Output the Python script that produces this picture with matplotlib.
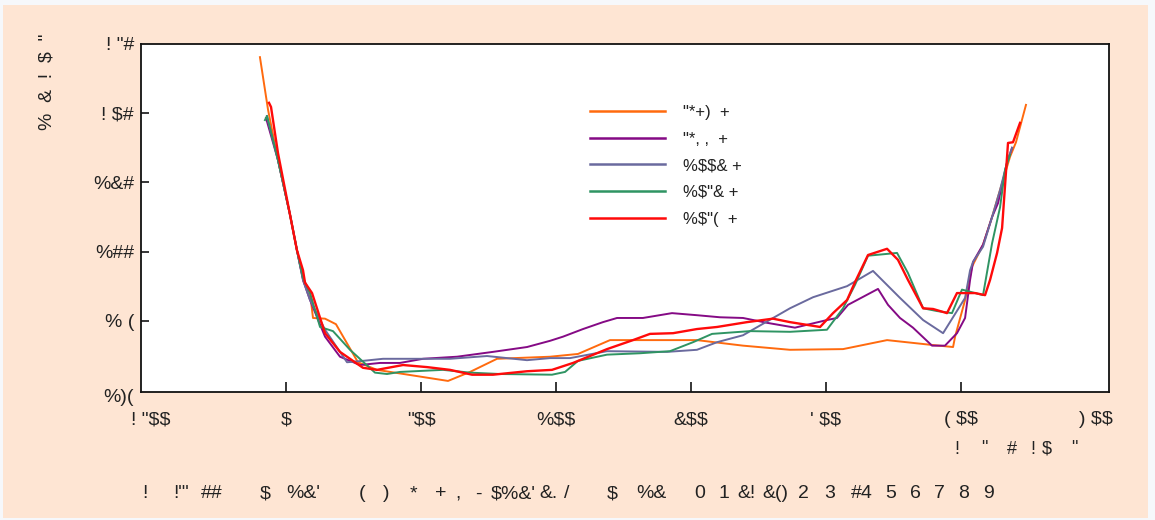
import matplotlib
matplotlib.use("Agg")
import matplotlib.pyplot as plt
from matplotlib.patches import Rectangle
from matplotlib.transforms import ScaledTranslation

plt.rcParams['font.family'] = ['Liberation Sans', 'DejaVu Sans']
plt.rcParams['text.parse_math'] = False

# ---- data ----
series_labels = ['"*+)  +', '"*, ,  +', '%$$& +', '%$"& +', '%$"(  +']
series_colors = ['#FF6A0E', '#850A85', '#6A6A9E', '#2F9463', '#FF0A0A']

orange_x = [-19.3, -13.3, -5.9, 3.0, 8.1, 13.3, 17.8, 20.0, 28.9, 37.0, 53.3, 67.4, 120.0, 136.3,
            156.3, 195.6, 216.3, 240.0, 304.4, 338.5, 373.3, 412.6, 445.2, 478.5, 494.1, 495.6,
            503.0, 508.1, 516.3, 523.0, 528.9, 536.3, 540.7, 548.1]
orange_y = [4.81, 4.05, 3.32, 2.53, 2.02, 1.55, 1.40, 1.04, 1.03, 0.95, 0.40, 0.29, 0.13, 0.26,
            0.45, 0.48, 0.52, 0.72, 0.72, 0.64, 0.58, 0.59, 0.72, 0.65, 0.62, 0.77,
            1.30, 1.78, 2.10, 2.50, 2.89, 3.37, 3.58, 4.12]

purple_x = [-14.8, -5.9, 3.0, 8.1, 12.6, 17.8, 28.9, 40.0, 54.8, 69.6, 84.4, 101.5, 126.7, 153.3,
            178.5, 195.6, 205.2, 220.0, 234.8, 245.2, 264.4, 285.9, 304.4, 321.5, 338.5, 356.3,
            377.0, 400.7, 408.1, 416.3, 438.5, 445.9, 454.8, 464.4, 478.5, 488.1, 497.0, 503.0,
            506.7, 508.9, 516.3, 523.0, 527.4, 534.1, 537.8]
purple_y = [3.93, 3.32, 2.53, 2.02, 1.59, 1.30, 0.77, 0.48, 0.36, 0.39, 0.39, 0.45, 0.48, 0.55,
            0.62, 0.71, 0.77, 0.88, 0.98, 1.04, 1.04, 1.11, 1.08, 1.05, 1.04, 0.97,
            0.90, 1.01, 1.04, 1.23, 1.46, 1.23, 1.04, 0.90, 0.64, 0.64, 0.82, 1.04,
            1.59, 1.85, 2.10, 2.50, 2.70, 3.29, 3.50]

slate_x = [-14.1, -5.9, 3.0, 8.1, 12.6, 17.8, 28.9, 45.2, 57.0, 71.9, 121.5, 148.9, 178.5, 195.6,
           210.4, 237.8, 282.2, 304.4, 319.3, 338.5, 373.3, 390.4, 415.6, 434.8, 454.8, 471.9,
           486.7, 503.0, 506.7, 508.9, 516.3, 523.0, 528.9, 534.1, 537.8]
slate_y = [3.96, 3.32, 2.53, 2.02, 1.59, 1.30, 0.87, 0.40, 0.42, 0.45, 0.45, 0.49, 0.43, 0.46,
           0.46, 0.56, 0.55, 0.58, 0.69, 0.79, 1.18, 1.34, 1.50, 1.72, 1.33, 1.01,
           0.82, 1.33, 1.73, 1.85, 2.07, 2.50, 2.89, 3.29, 3.50]

green_x = [-15.6, -14.1, -5.9, 3.0, 8.1, 12.6, 17.8, 25.2, 34.8, 47.4, 65.9, 74.8, 84.4, 116.3,
           136.3, 158.5, 197.0, 206.7, 216.3, 237.8, 262.2, 284.4, 301.5, 315.6, 343.7, 373.3,
           400.7, 412.6, 421.5, 431.1, 452.6, 460.7, 471.9, 482.2, 493.3, 500.7, 516.3, 523.0,
           528.9, 532.6, 536.3]
green_y = [3.90, 3.96, 3.32, 2.53, 2.02, 1.62, 1.40, 0.91, 0.85, 0.58, 0.25, 0.23, 0.26, 0.29,
           0.25, 0.23, 0.22, 0.26, 0.42, 0.51, 0.53, 0.56, 0.69, 0.81, 0.85, 0.84,
           0.87, 1.18, 1.52, 1.94, 1.98, 1.69, 1.18, 1.14, 1.11, 1.45, 1.37, 2.12,
           2.64, 3.18, 3.40]

red_x = [-12.6, -11.1, -5.9, 3.0, 8.1, 12.6, 14.1, 19.3, 28.9, 40.0, 57.0, 67.4, 86.7, 104.4,
         121.5, 137.8, 153.3, 178.5, 197.0, 212.6, 237.8, 257.0, 269.6, 286.7, 304.4, 319.3,
         341.5, 360.7, 373.3, 395.6, 405.2, 415.6, 421.5, 431.1, 445.2, 453.3, 460.7, 471.9,
         479.3, 489.6, 497.0, 510.4, 517.8, 521.5, 526.7, 530.4, 534.8, 538.5, 543.7]
red_y = [4.15, 4.09, 3.42, 2.53, 2.02, 1.73, 1.55, 1.40, 0.82, 0.55, 0.32, 0.29, 0.36, 0.33,
         0.29, 0.22, 0.22, 0.27, 0.29, 0.39, 0.59, 0.72, 0.81, 0.82, 0.88, 0.91,
         0.98, 1.03, 0.98, 0.91, 1.11, 1.30, 1.56, 1.95, 2.04, 1.88, 1.59, 1.18,
         1.17, 1.11, 1.40, 1.40, 1.37, 1.59, 1.98, 2.34, 3.57, 3.58, 3.86]

x_ticks = [-100, 0, 100, 200, 300, 400, 500, 600]
x_tick_labels = ['! "$$', '$', '"$$', '%$$', '&$$', "' $$", '( $$', ') $$']
y_ticks = [0, 1, 2, 3, 4, 5]
y_tick_labels = ['%)(', '% (', '%##', '%&#', '! $#', '! "#']

y_title = '%  &  !  $  "'
unit_tokens = ['!', '"', '#', '!', '$', '"']
caption_tokens = ['!', '!"\'', '##', '$', '%&\'', '(', ')', '*', '+', ',', '-', '$%&\'', '&.', '/',
                  '$', '%&', '0', '1', '&!', '&()', '2', '3', '#4', '5', '6', '7', '8', '9']

# ---- layout (pixel positions of the free-standing text pieces) ----
unit_px = [957, 984, 1012, 1033, 1047, 1074]
caption_px = [145, 181, 212, 265, 303, 362, 386, 413, 441, 458, 478, 513, 549, 567,
              612, 651, 700, 724, 747, 775, 803, 830, 862, 891, 915, 939, 964, 988]

xs = [orange_x, purple_x, slate_x, green_x, red_x]
ys = [orange_y, purple_y, slate_y, green_y, red_y]
widths = [1.4, 1.4, 1.4, 1.4, 1.7]

# ---- figure ----
W, H = 1155, 520
fig = plt.figure(figsize=(W / 100, H / 100), dpi=100, facecolor='#F6F8FB')
fig.patches.append(Rectangle((3 / W, 1 - 518 / H), (1148 - 3) / W, (518 - 5) / H,
                             transform=fig.transFigure, facecolor='#FEE5D3',
                             edgecolor='none', zorder=-5))

ax = fig.add_axes([141 / W, 1 - 392 / H, (1109 - 141) / W, (392 - 44) / H])
ax.set_facecolor('white')

for x, y, c, lab, lw in zip(xs, ys, series_colors, series_labels, widths):
    ax.plot(x, y, color=c, lw=lw, label=lab, solid_joinstyle='round')

ax.set_xlim(-107.4, 609.6)
ax.set_ylim(-0.03, 5.0)

for s in ax.spines.values():
    s.set_linewidth(1.3)
    s.set_color('#111111')

ax.set_xticks(x_ticks)
ax.set_xticklabels(x_tick_labels, fontsize=14, color='#222222')
ax.set_yticks(y_ticks)
ax.set_yticklabels(y_tick_labels, fontsize=14, color='#222222')
ax.tick_params(axis='x', direction='in', length=7, width=1.1, pad=14)
ax.tick_params(axis='y', direction='in', length=6, width=1.1, pad=5)

# outer ticks carry labels only
xt = ax.xaxis.get_major_ticks()
xt[0].tick1line.set_visible(False)
xt[-1].tick1line.set_visible(False)
yt = ax.yaxis.get_major_ticks()
yt[0].tick1line.set_visible(False)
yt[-1].tick1line.set_visible(False)
# lowest y label sits a little below the axis line
lbl0 = ax.get_yticklabels()[0]
lbl0.set_transform(lbl0.get_transform() + ScaledTranslation(0, -6 / 100, fig.dpi_scale_trans))

leg = ax.legend(loc='upper left', bbox_to_anchor=((590 - 141) / (1109 - 141),
                                                  1 - (105 - 44) / (392 - 44)),
                frameon=False, fontsize=12, handlelength=4.5, handletextpad=1.1,
                labelspacing=0.7, borderaxespad=0, borderpad=0)
for line in leg.get_lines():
    line.set_linewidth(1.8)
for t in leg.get_texts():
    t.set_color('#222222')

fig.text(47 / W, 1 - 82 / H, y_title, rotation=90, ha='center', va='center',
         fontsize=14, color='#222222')
for tok, px in zip(unit_tokens, unit_px):
    fig.text(px / W, 1 - 449 / H, tok, ha='center', va='center', fontsize=13, color='#222222')
for tok, px in zip(caption_tokens, caption_px):
    fig.text(px / W, 1 - 494 / H, tok, ha='center', va='center', fontsize=14, color='#222222')

fig.savefig('out.png', dpi=100, facecolor=fig.get_facecolor())
